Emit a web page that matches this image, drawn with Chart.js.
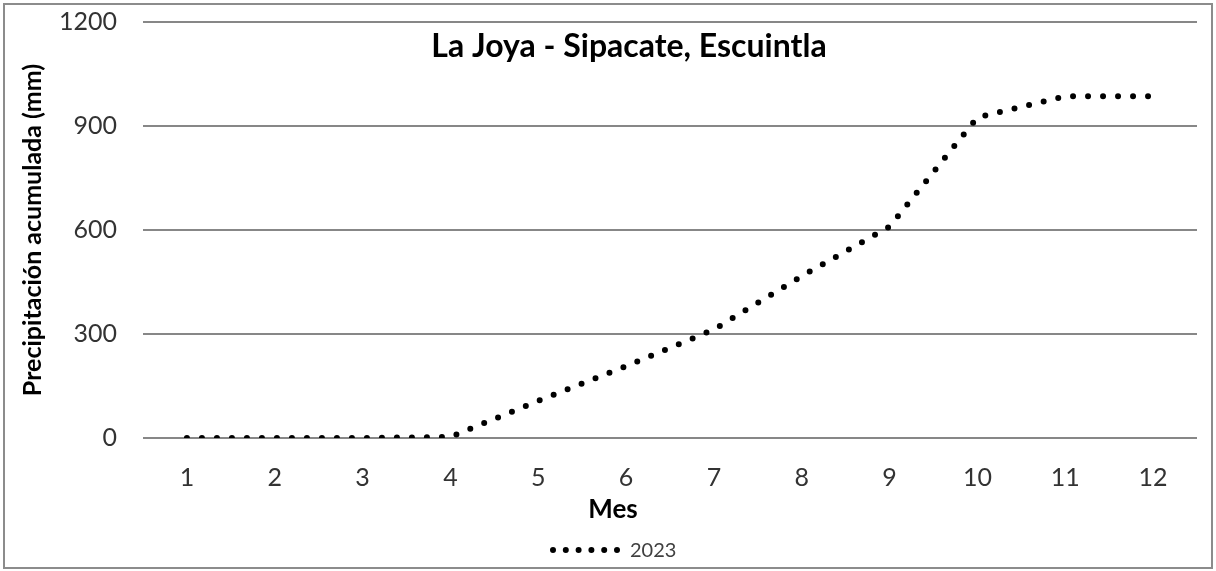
<!DOCTYPE html>
<html>
<head>
<meta charset="utf-8">
<script src="https://cdn.jsdelivr.net/npm/chart.js@4/dist/chart.umd.min.js"></script>
<style>
html,body{margin:0;padding:0;background:#ffffff;}
#wrap{width:1216px;height:571px;position:relative;}
</style>
</head>
<body>
<div id="wrap"><canvas id="c" width="1216" height="571"></canvas></div>
<script>
// ---- data ----
const months = ['1','2','3','4','5','6','7','8','9','10','11','12'];
const precip2023 = [0, 0, 0, 3, 107, 207, 313, 467, 610, 925, 986, 986];
const yTickValues = [0, 300, 600, 900, 1200];
const chartTitle = 'La Joya - Sipacate, Escuintla';
const xAxisTitle = 'Mes';
const yAxisTitle = 'Precipitación acumulada (mm)';
const seriesLabel = '2023';

const FONT = 'Lato, "Open Sans", sans-serif';

const decor = {
  id: 'decor',
  afterDraw(chart) {
    const ctx = chart.ctx;
    ctx.save();
    // outer border
    ctx.strokeStyle = '#8c8c8c';
    ctx.lineWidth = 2;
    ctx.strokeRect(4, 4, 1208, 564);
    // title
    ctx.fillStyle = '#000000';
    ctx.textAlign = 'center';
    ctx.textBaseline = 'middle';
    ctx.font = 'bold 32px ' + FONT;
    ctx.fillText(chartTitle, 629, 47);
    // x axis title
    ctx.font = 'bold 26px ' + FONT;
    ctx.fillText(xAxisTitle, 613, 510);
    // legend
    ctx.beginPath();
    ctx.strokeStyle = '#000000';
    ctx.lineWidth = 6;
    ctx.lineCap = 'round';
    ctx.setLineDash([0, 12.8]);
    ctx.moveTo(553, 550);
    ctx.lineTo(620, 550);
    ctx.stroke();
    ctx.setLineDash([]);
    ctx.fillStyle = '#404040';
    ctx.textAlign = 'left';
    ctx.font = '20px ' + FONT;
    ctx.fillText(seriesLabel, 630, 551);
    ctx.restore();
  }
};

new Chart(document.getElementById('c'), {
  type: 'line',
  data: {
    labels: months,
    datasets: [{
      label: seriesLabel,
      data: precip2023,
      borderColor: '#000000',
      backgroundColor: '#000000',
      borderWidth: 6,
      borderDash: [0, 15],
      borderCapStyle: 'round',
      tension: 0,
      pointRadius: 0,
      pointHoverRadius: 0,
      fill: false
    }]
  },
  options: {
    responsive: false,
    animation: false,
    devicePixelRatio: 1,
    layout: { padding: { top: 22, right: 19, bottom: 0, left: 0 } },
    plugins: {
      legend: { display: false },
      title: { display: false },
      tooltip: { enabled: false }
    },
    scales: {
      x: {
        type: 'category',
        offset: true,
        grid: { display: false, drawTicks: false },
        border: { display: false },
        ticks: {
          color: '#333333',
          font: { family: FONT, size: 25 },
          padding: 25,
          maxRotation: 0
        },
        afterFit(scale) { scale.height = 133; scale.paddingLeft = 0; scale.paddingRight = 0; }
      },
      y: {
        min: 0,
        max: 1200,
        grid: { color: '#878787', lineWidth: 2, drawTicks: false },
        border: { display: false },
        ticks: {
          color: '#333333',
          font: { family: FONT, size: 25 },
          padding: 26,
          stepSize: 300,
          callback: v => String(v)
        },
        afterBuildTicks(scale) { scale.ticks = yTickValues.map(v => ({ value: v })); },
        title: {
          display: true,
          text: yAxisTitle,
          color: '#000000',
          font: { family: FONT, size: 25, weight: 'bold' },
          padding: { top: 18, bottom: 0 }
        },
        afterFit(scale) { scale.width = 143; scale.paddingTop = 0; scale.paddingBottom = 0; }
      }
    }
  },
  plugins: [decor]
});
</script>
</body>
</html>
